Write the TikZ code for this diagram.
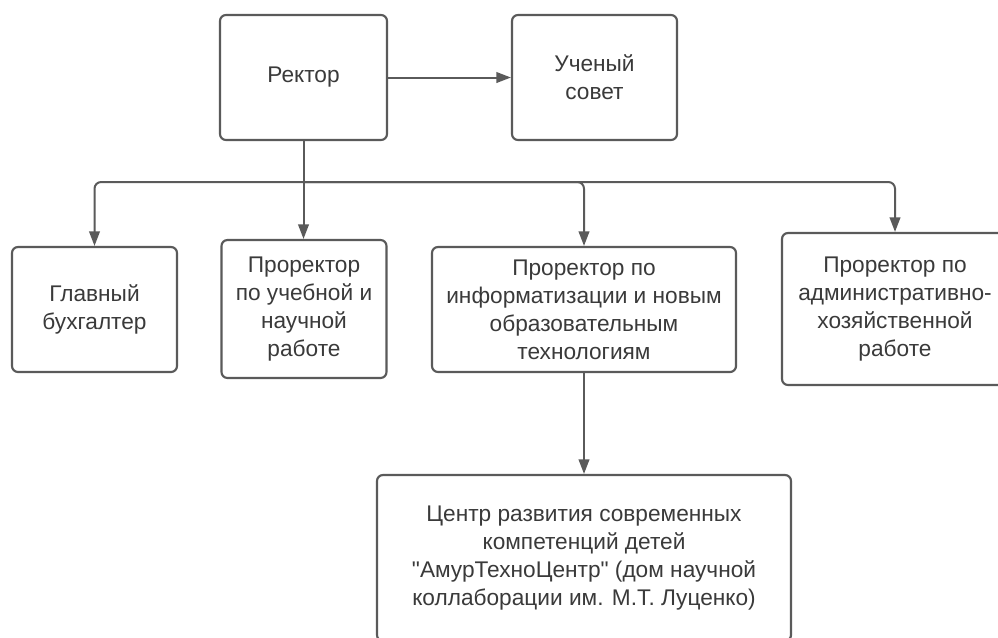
\documentclass[tikz,border=0pt]{standalone}
\usepackage{fontspec}
\setmainfont{Liberation Sans}
\newfontfamily\lsans{Liberation Sans}
\usetikzlibrary{arrows.meta}
\definecolor{boxline}{HTML}{5A5A5A}
\definecolor{txt}{HTML}{3A3A3A}
\tikzset{
  box/.style={draw=boxline, line width=1.6pt, rounded corners=4.5pt, fill=white,
    align=center, inner sep=0pt, text=txt,
    font=\lsans\fontsize{17}{21}\selectfont},
  arr/.style={draw=boxline, line width=1.5pt,
    -{Triangle[length=11pt,width=8pt]}},
}
\begin{document}
\begin{tikzpicture}[x=0.75pt,y=-0.75pt]
\clip (0,0) rectangle (998,637);
\fill[white] (0,0) rectangle (998,637);
\node[box, minimum width=167*0.75pt, minimum height=125*0.75pt] (rektor) at (303.5,77.5) {Ректор};
\node[box, minimum width=165*0.75pt, minimum height=125*0.75pt] (sovet) at (594.5,77.5) {Ученый\\совет};
\node[box, minimum width=165*0.75pt, minimum height=125*0.75pt] (buh) at (94.5,309.5) {Главный\\бухгалтер};
\node[box, minimum width=165*0.75pt, minimum height=138*0.75pt] (ucheb) at (304,309) {Проректор\\по учебной и\\научной\\работе};
\node[box, minimum width=304*0.75pt, minimum height=125*0.75pt] (info) at (584,309.5) {Проректор по\\информатизации и новым\\образовательным\\технологиям};
\node[box, minimum width=226*0.75pt, minimum height=152*0.75pt] (adm) at (895,309) {Проректор по\\административно-\\хозяйственной\\работе};
\node[box, minimum width=414*0.75pt, minimum height=166*0.75pt] (centr) at (584,558) {Центр развития современных\\компетенций детей\\"АмурТехноЦентр" (дом научной\\коллаборации им. М.Т. Луценко)};
\coordinate (j) at (303.5,182);
\draw[arr] (rektor.east) -- (sovet.west);
\draw[arr] (rektor.south) -- (rektor.south |- ucheb.north);
\draw[arr, rounded corners=5pt] (j) -| (buh.north);
\draw[arr, rounded corners=5pt] (j) -| (info.north);
\draw[arr, rounded corners=5pt] (j) -| (adm.north);
\draw[arr] (info.south) -- (centr.north);
\end{tikzpicture}
\end{document}
